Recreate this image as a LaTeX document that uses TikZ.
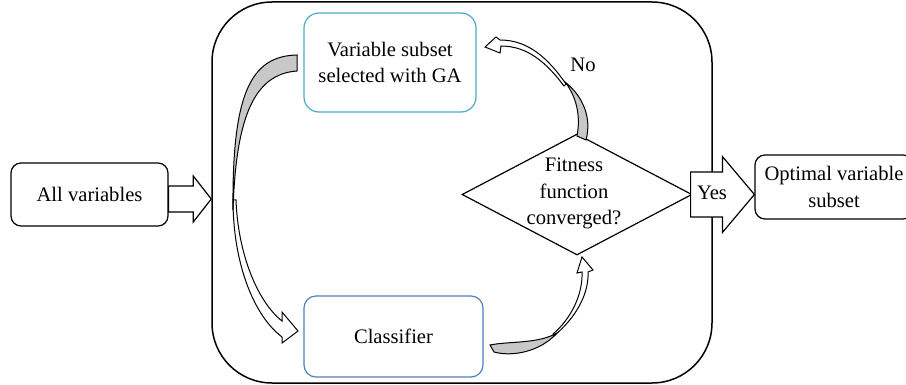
\documentclass[tikz,border=0pt]{standalone}
\usepackage{fontspec}
\setmainfont{Liberation Serif}
\usetikzlibrary{shapes.geometric}
\definecolor{aqua}{HTML}{4BACC6}
\definecolor{blueacc}{HTML}{4F81BD}
\definecolor{bandgray}{HTML}{C8C8C8}
\begin{document}
\begin{tikzpicture}[x=0.5pt,y=-0.5pt,
  font=\fontsize{10.3}{13.2}\selectfont,
  box/.style={draw, line width=0.6pt, rounded corners=#1, align=center, inner sep=0pt},
  band/.style={draw, line width=0.5pt, fill=bandgray},
  whiteband/.style={draw, line width=0.5pt, fill=white},
  blockarrow/.style={draw, line width=0.6pt, fill=white, line join=miter}
]
\clip (0,0) rectangle (906,385);
\fill[white] (0,0) rectangle (906,385);

% container
\node[draw, line width=0.75pt, rounded corners=30pt, minimum width=250pt, minimum height=190.5pt, inner sep=0pt] (main) at (462,192.5) {};

% boxes
\node[box=5pt, minimum width=78.5pt, minimum height=31.5pt] (all) at (89.5,194.5) {All variables};
\node[box=7.5pt, draw=aqua, minimum width=86pt, minimum height=49.5pt] (ga) at (390,62.5) {Variable subset\\selected with GA};
\node[box=6pt, draw=blueacc, minimum width=89.5pt, minimum height=40.5pt] (cls) at (393.5,336.5) {Classifier};
\node[diamond, draw, line width=0.6pt, minimum width=115pt, minimum height=60.5pt, inner sep=0pt] (fit) at (577,194.5) {};
\node[align=center, inner sep=0pt] (fittext) at (574,193.5) {Fitness\\function\\converged?};
\node[box=5pt, minimum width=79pt, minimum height=32pt] (opt) at (834,187) {Optimal variable\\subset};

% curved arrow: GA -> classifier
\filldraw[whiteband] (233,200) .. controls (233,262) and (253,315) .. (282,337) -- (282,343) -- (298,331) -- (282,312) -- (282,321) .. controls (258,302) and (238,255) .. (236,200) -- cycle;
\filldraw[band] (297,55) .. controls (250,56) and (232,95) .. (233,210) .. controls (236,115) and (255,74) .. (297,71) -- cycle;

% curved arrow: fitness -> GA (No)
\filldraw[whiteband] (566,84) .. controls (548,58) and (528,40) .. (500,40) -- (496,37) -- (485,47) -- (500,53) -- (501,46) .. controls (527,46) and (546,62) .. (564,86) -- cycle;
\filldraw[band] (577,136) .. controls (581,115) and (576,96) .. (565,82) .. controls (583,96) and (592,118) .. (586,140) -- cycle;
\node (no) at (583,65) {No};

% curved arrow: classifier -> fitness
\filldraw[whiteband] (555,335) .. controls (575,318) and (589,295) .. (588,272) -- (593,270) -- (582,257) -- (577,273) -- (582,272) .. controls (583,293) and (572,318) .. (553,334) -- cycle;
\filldraw[band] (490,345) .. controls (510,341) and (538,344) .. (557,333) .. controls (540,352) and (512,357) .. (494,352) -- cycle;

% block arrow: all -> main
\coordinate (a1) at ([yshift=-2.25pt]all.east);
\coordinate (a2) at (a1 -| main.west);
\draw[blockarrow] ([yshift=6.5pt]a1) -- ([shift={(-9pt,6.5pt)}]a2) -- ([shift={(-9pt,11.5pt)}]a2) -- (a2) -- ([shift={(-9pt,-11.5pt)}]a2) -- ([shift={(-9pt,-6.5pt)}]a2) -- ([yshift=-6.5pt]a1) -- cycle;

% block arrow: fitness -> optimal (Yes)
\coordinate (yt) at (opt.west |- fit.east);
\draw[blockarrow] ([shift={(-1pt,11.25pt)}]fit.east) -- ([shift={(-16pt,11.25pt)}]yt) -- ([shift={(-16pt,19pt)}]yt) -- (yt) -- ([shift={(-16pt,-19pt)}]yt) -- ([shift={(-16pt,-11.25pt)}]yt) -- ([shift={(-1pt,-11.25pt)}]fit.east) -- cycle;
\node (yes) at (712,193) {Yes};
\end{tikzpicture}
\end{document}
